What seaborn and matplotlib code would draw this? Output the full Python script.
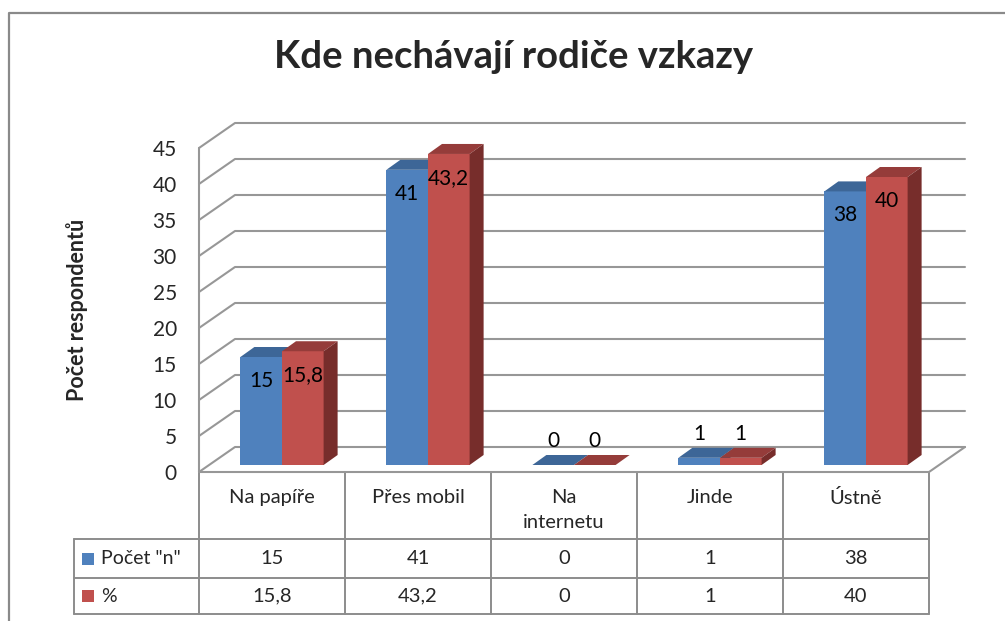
import matplotlib
matplotlib.use("Agg")
import matplotlib.pyplot as plt
import numpy as np
import pandas as pd
import seaborn as sns
from matplotlib.patches import Polygon

# data
CATEGORIES = ["Na papíře", "Přes mobil", "Na\ninternetu", "Jinde", "Ústně"]
SERIES = ['Počet "n"', "%"]
COUNT_N = [15, 41, 0, 1, 38]
PERCENT = [15.8, 43.2, 0, 1, 40]
Y_TICKS = [0, 5, 10, 15, 20, 25, 30, 35, 40, 45]
TITLE = "Kde nechávají rodiče vzkazy"
Y_LABEL = "Počet respondentů"

BLUE = "#4f81bd"
RED = "#c0504d"
TOP = {BLUE: "#3d6697", RED: "#953c3a"}
SIDE = {BLUE: "#35577f", RED: "#772d2b"}
GRID = "#979797"
W, H = 1005, 621


def fmt(v):
    return f"{v:g}".replace(".", ",")


sns.set_style("white")
plt.rcParams["font.family"] = ["Lato", "DejaVu Sans"]

df = pd.DataFrame({
    "kategorie": CATEGORIES * 2,
    "rada": [SERIES[0]] * len(CATEGORIES) + [SERIES[1]] * len(CATEGORIES),
    "hodnota": COUNT_N + PERCENT,
})

fig = plt.figure(figsize=(W / 100, H / 100), dpi=100)
frame = fig.add_axes([0, 0, 1, 1], zorder=0)
frame.set_xlim(0, W)
frame.set_ylim(H, 0)
frame.axis("off")

ax = fig.add_axes([199 / W, (H - 472) / H, 730 / W, 324 / H], zorder=1)
ax.patch.set_alpha(0)
sns.barplot(data=df, x="kategorie", y="hodnota", hue="rada", order=CATEGORIES,
            hue_order=SERIES, palette=[BLUE, RED], saturation=1, width=0.57,
            legend=False, linewidth=0, ax=ax)
ax.set_xlim(-0.5, len(CATEGORIES) - 0.5)
ax.set_ylim(0, 45)
ax.set_xticks([])
ax.set_xlabel("")
ax.set_ylabel("")
ax.set_yticks(Y_TICKS)
ax.tick_params(axis="y", length=0, pad=16, labelsize=15)
sns.despine(ax=ax, left=True, bottom=True)


def px_to_data(dx, dy):
    (x0, y0), (x1, y1) = ax.transData.transform([(0, 0), (1, 1)])
    return dx / (x1 - x0), dy / (y1 - y0)


def to_px(x, y):
    return frame.transData.inverted().transform(ax.transData.transform((x, y)))


# walls and floor of the 3d box
xl, xr = -0.5, len(CATEGORIES) - 0.5
wx, wy = px_to_data(36, 25)
for v in Y_TICKS:
    ax.plot([xl, xl + wx, xr + wx], [v, v + wy, v + wy], color=GRID, lw=1.5,
            clip_on=False, zorder=1)
ax.plot([xl, xl], [0, Y_TICKS[-1]], color=GRID, lw=1.5, clip_on=False, zorder=1)
ax.plot([xr, xr + wx], [0, wy], color=GRID, lw=1.5, clip_on=False, zorder=1)
ax.plot([xl, xr], [0, 0], color=GRID, lw=1.5, clip_on=False, zorder=1)

# bars: shift front faces into the box, add top and side faces
fx, fy = px_to_data(10, 7)
bx, by = px_to_data(14, 10)
for i, (cont, col) in enumerate(zip(ax.containers, [BLUE, RED])):
    z = 3 + 2 * i
    for p in cont.patches:
        p.set_x(p.get_x() + fx)
        p.set_y(p.get_y() + fy)
        p.set_zorder(z)
        p.set_clip_on(False)
        x0, y0, w, h = p.get_x(), p.get_y(), p.get_width(), p.get_height()
        top = [(x0, y0 + h), (x0 + w, y0 + h), (x0 + w + bx, y0 + h + by), (x0 + bx, y0 + h + by)]
        side = [(x0 + w, y0), (x0 + w + bx, y0 + by), (x0 + w + bx, y0 + h + by), (x0 + w, y0 + h)]
        ax.add_patch(Polygon(top, closed=True, color=TOP[col], lw=0, zorder=z + 0.5, clip_on=False))
        ax.add_patch(Polygon(side, closed=True, color=SIDE[col], lw=0, zorder=z + 0.5, clip_on=False))
        ly = y0 + (h - 3.3 if h >= 5 else h + 3.3)
        ax.text(x0 + w / 2, ly, fmt(h), ha="center", va="center", fontsize=15,
                color="black", zorder=10)

# data table under the chart
cols = [to_px(b, 0)[0] for b in np.arange(xl, xr + 1)]
floor = to_px(0, 0)[1]
rows = [floor, 539, 578, 614]
left = 74
tab = dict(color="#8c8c8c", lw=1.4)
for y in rows[1:]:
    frame.plot([left, cols[-1]], [y, y], **tab)
for x in cols:
    frame.plot([x, x], [rows[0], rows[-1]], **tab)
frame.plot([left, left], [rows[1], rows[-1]], **tab)

for i, name in enumerate(CATEGORIES):
    cx = (cols[i] + cols[i + 1]) / 2
    frame.text(cx, rows[0] + 17, name, ha="center", va="top", fontsize=14.5, linespacing=1.6)
    frame.text(cx, (rows[1] + rows[2]) / 2, fmt(COUNT_N[i]), ha="center", va="center", fontsize=14.5)
    frame.text(cx, (rows[2] + rows[3]) / 2, fmt(PERCENT[i]), ha="center", va="center", fontsize=14.5)

for (r0, r1), s, col in zip([(rows[1], rows[2]), (rows[2], rows[3])], SERIES, [BLUE, RED]):
    yc = (r0 + r1) / 2
    frame.scatter([88], [yc], marker="s", s=70, color=col, linewidths=0)
    frame.text(101, yc, s, ha="left", va="center", fontsize=14)

# title, axis title and chart border
frame.text(514, 68, TITLE, ha="center", va="baseline", fontsize=27.5, fontweight="bold")
frame.text(77, 310, Y_LABEL, rotation=90, ha="center", va="center", fontsize=15.5,
           fontweight="bold")
frame.plot([9, 9, W], [H, 13, 13], color="#8a8a8a", lw=1.6)

fig.savefig("out.png", dpi=100)
